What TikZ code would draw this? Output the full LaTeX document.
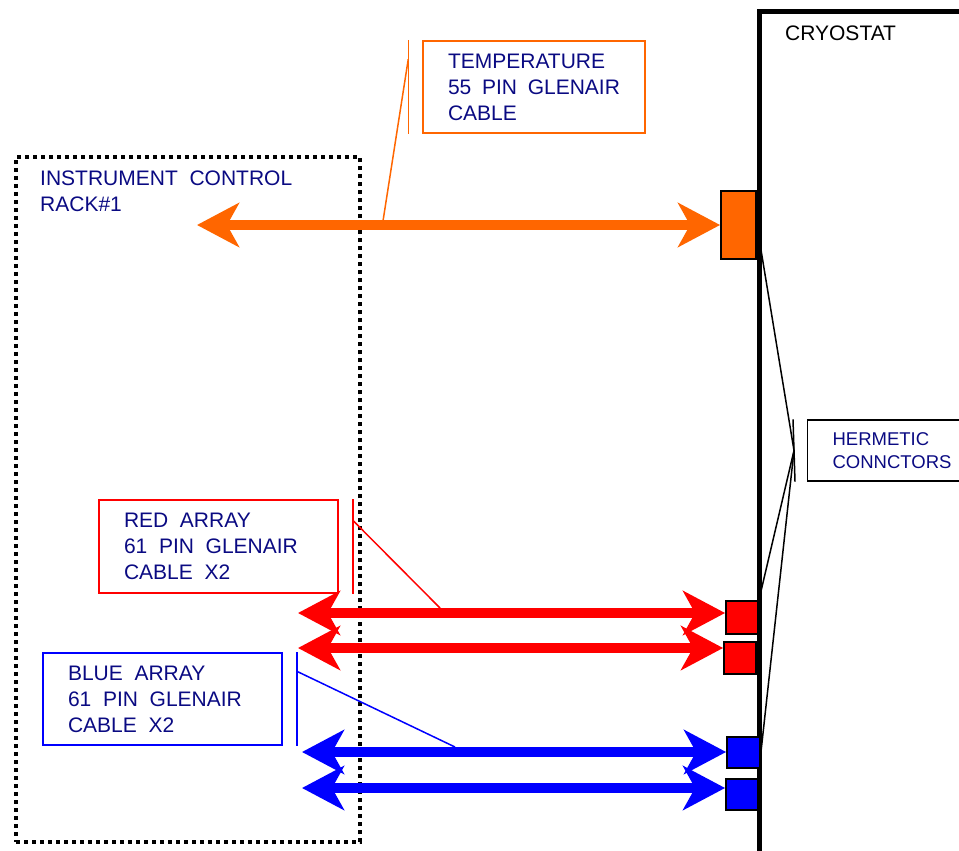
\documentclass[tikz,border=0pt]{standalone}
\usepackage{fontspec}
\setmainfont[WordSpace=2]{Liberation Sans}
\usepackage{tikz}
\usetikzlibrary{arrows.meta, positioning}

\definecolor{cableorange}{RGB}{255,102,0}
\definecolor{labelnavy}{RGB}{10,10,130}

\begin{document}
\begin{tikzpicture}[
        x=1pt, y=-1pt,
        rackbox/.style={rectangle, draw, line width=4pt, dash pattern=on 4pt off 4pt, minimum width=344pt, minimum height=685pt},
        labelbox/.style={rectangle, draw, line width=1.5pt, inner xsep=25pt, inner ysep=0pt, align=flush left, text=labelnavy, font=\fontsize{21}{26}\selectfont},
        conn/.style={rectangle, draw=black, line width=1.8pt, inner sep=0pt},
        arrow/.style={line width=10pt, {Stealth[length=42pt,width=44pt,inset=12pt]}-{Stealth[length=42pt,width=44pt,inset=12pt]}},
        callout/.style={line width=1.5pt}
        ]

        \useasboundingbox (0,0) rectangle (959,851);

        % rack and cryostat
        \node (rack) [rackbox] at (188,499.5) {};
        \node (racklabel) [anchor=north west, inner sep=0pt, align=left, text=labelnavy, font=\fontsize{21}{26}\selectfont] at (40,171) {INSTRUMENT CONTROL\\RACK\#1};
        \draw [line width=5pt] (759,870) -- (759,12) -- (980,12);
        \node (cryolabel) [anchor=west, inner sep=0pt, font=\fontsize{21}{24}\selectfont] at (785,33) {CRYOSTAT};

        % connectors on the cryostat wall
        \node (tempconn) [conn, fill=cableorange, minimum width=35pt, minimum height=68pt] at (738.5,225) {};
        \node (redconnA) [conn, fill=red, minimum width=32pt, minimum height=33pt] at (742,617.5) {};
        \node (redconnB) [conn, fill=red, minimum width=32pt, minimum height=32pt, below=6pt of redconnA, xshift=-2pt] {};
        \node (blueconnA) [conn, fill=blue, minimum width=33pt, minimum height=31pt] at (743.5,752.5) {};
        \node (blueconnB) [conn, fill=blue, minimum width=32pt, minimum height=31pt, below=9pt of blueconnA, xshift=-1.5pt] {};

        % labels
        \node (tempbox) [labelbox, draw=cableorange, text width=172pt, minimum height=92pt] at (534,87) {TEMPERATURE\\55 PIN GLENAIR\\CABLE};
        \node (redbox) [labelbox, draw=red, text width=189pt, minimum height=93pt] at (218.5,546.5) {RED ARRAY\\61 PIN GLENAIR\\CABLE X2};
        \node (bluebox) [labelbox, draw=blue, text width=189pt, minimum height=92pt] at (162.5,699) {BLUE ARRAY\\61 PIN GLENAIR\\CABLE X2};
        \node (hermbox) [labelbox, draw=black, line width=1.2pt, text width=150pt, minimum height=61pt, font=\fontsize{18.5}{23}\selectfont, anchor=west] at (807,450.5) {HERMETIC\\CONNCTORS};

        % cables
        \coordinate (tempL) at (197,225);
        \coordinate (redL1) at (298,613);
        \coordinate (redL2) at (298,648);
        \coordinate (blueL1) at (302,752);
        \coordinate (blueL2) at (302,788);

        \draw [arrow, cableorange] (tempL) -- (tempconn);
        \draw [arrow, red] (redL1) -- (redL1 -| redconnA.west);
        \draw [arrow, red] (redL2) -- (redL2 -| redconnB.west);
        \draw [arrow, blue] (blueL1) -- (blueL1 -| blueconnA.west);
        \draw [arrow, blue] (blueL2) -- (blueL2 -| blueconnB.west);

        % callouts
        \coordinate (temphit) at (383,221);
        \coordinate (redhit) at (440,608);
        \coordinate (bluehit) at (455,747);
        \coordinate (hermtip) at ([xshift=-13pt]hermbox.west);

        \draw [callout, cableorange] ([xshift=-14pt]tempbox.north west) -- ([xshift=-14pt]tempbox.south west);
        \draw [callout, cableorange] ([xshift=-14pt,yshift=-19pt]tempbox.north west) -- (temphit);
        \draw [callout, red] ([xshift=14pt]redbox.north east) -- ([xshift=14pt]redbox.south east);
        \draw [callout, red] ([xshift=14pt,yshift=-21pt]redbox.north east) -- (redhit);
        \draw [callout, blue] ([xshift=14pt]bluebox.north east) -- ([xshift=14pt]bluebox.south east);
        \draw [callout, blue] ([xshift=14pt,yshift=-19pt]bluebox.north east) -- (bluehit);

        \draw [callout] ([xshift=-14pt]hermbox.north west) -- ([xshift=-12pt]hermbox.south west);
        \draw [callout] (tempconn.east) -- (hermtip);
        \draw [callout] (redconnA.north east) -- (hermtip);
        \draw [callout] (blueconnA.east) -- (hermtip);

    \end{tikzpicture}
\end{document}
